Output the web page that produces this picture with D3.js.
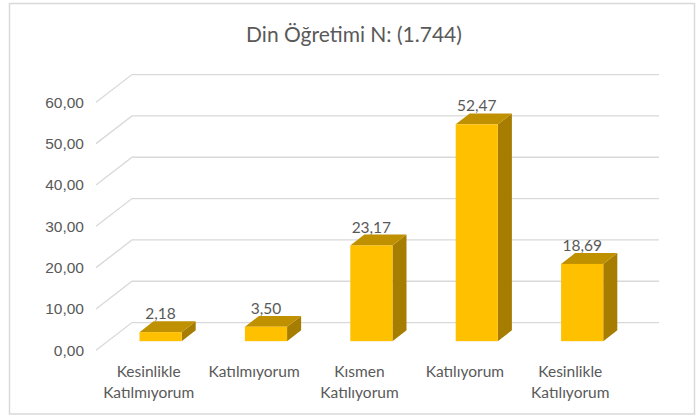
<!DOCTYPE html>
<html>
<head>
<meta charset="utf-8">
<script src="https://cdn.jsdelivr.net/npm/d3@7"></script>
<style>
  html, body { margin: 0; padding: 0; background: #fff; }
  svg { display: block; font-family: Lato, "Open Sans", sans-serif; }
  .tick text, .lbl, .cat { fill: #595959; font-size: 15.5px; }
  .title { fill: #595959; font-size: 21px; }
</style>
</head>
<body>
<svg id="chart" width="700" height="418"></svg>
<script>
/* ── data ─────────────────────────────────────────────────────────────── */
const TITLE = "Din Öğretimi N: (1.744)";
const CATEGORIES = [
  ["Kesinlikle", "Katılmıyorum"],
  ["Katılmıyorum"],
  ["Kısmen", "Katılıyorum"],
  ["Katılıyorum"],
  ["Kesinlikle", "Katılıyorum"],
];
const VALUES = [2.18, 3.5, 23.17, 52.47, 18.69];
const Y_TICKS = [0, 10, 20, 30, 40, 50, 60];

/* ── layout ───────────────────────────────────────────────────────────── */
const svg = d3.select("#chart");
const tr = d3.formatLocale({ decimal: ",", thousands: ".", grouping: [3], currency: ["", ""] });
const fmt = tr.format(".2f");

// front plane of the plot, and the depth vector back to the wall
const front = { left: 96, right: 623, bottom: 350.3, top: 102.3 };
const depth = { dx: 36, dy: -27.7 };
const barNear = 0.33, barFar = 0.72;   // bar slab position in depth

const keys = CATEGORIES.map((c) => c.join(" "));
const x = d3.scaleBand().domain(keys).range([front.left, front.right]);
const y = d3.scaleLinear().domain([0, 60]).range([front.bottom, front.top]);
const barW = x.bandwidth() * 0.4;

// chart border
svg.append("rect")
  .attr("x", 9.5).attr("y", 3.5).attr("width", 685).attr("height", 410.5)
  .attr("fill", "#fff").attr("stroke", "#d9d9d9").attr("stroke-width", 1.5);

svg.append("text")
  .attr("class", "title")
  .attr("x", 354).attr("y", 41.5)
  .attr("text-anchor", "middle")
  .text(TITLE);

// gridlines: diagonal side wall + horizontal back wall
svg.append("g").selectAll("path").data(Y_TICKS).join("path")
  .attr("d", (t) => {
    const p = d3.path();
    p.moveTo(front.left, y(t));
    p.lineTo(front.left + depth.dx, y(t) + depth.dy);
    p.lineTo(front.right + depth.dx, y(t) + depth.dy);
    return p.toString();
  })
  .attr("fill", "none")
  .attr("stroke", "#d9d9d9")
  .attr("stroke-width", 1.3);

// y axis labels
const yAxis = svg.append("g")
  .attr("transform", `translate(${front.left},0)`)
  .call(d3.axisLeft(y).tickValues(Y_TICKS).tickFormat(fmt).tickSize(0).tickPadding(12));
yAxis.select(".domain").remove();
yAxis.selectAll(".tick text").attr("font-family", null).attr("font-size", null).attr("fill", null);

// 3D bars
const bars = svg.append("g").selectAll("g").data(VALUES.map((v, i) => ({ k: keys[i], v }))).join("g");
const shift = (f) => [f * depth.dx, f * depth.dy];

bars.each(function (d) {
  const g = d3.select(this);
  const x0 = x(d.k) + (x.bandwidth() - barW) / 2;
  const x1 = x0 + barW;
  const [nx, ny] = shift(barNear);
  const [fx, fy] = shift(barFar);
  const yt = y(d.v), yb = y(0);

  g.append("path") // side
    .attr("d", `M${x1 + nx},${yt + ny}L${x1 + fx},${yt + fy}L${x1 + fx},${yb + fy}L${x1 + nx},${yb + ny}Z`)
    .attr("fill", "#a67d00");
  g.append("path") // top
    .attr("d", `M${x0 + nx},${yt + ny}L${x1 + nx},${yt + ny}L${x1 + fx},${yt + fy}L${x0 + fx},${yt + fy}Z`)
    .attr("fill", "#bf9000");
  g.append("rect") // front
    .attr("x", x0 + nx).attr("y", yt + ny)
    .attr("width", barW).attr("height", yb - yt)
    .attr("fill", "#ffc000");
  g.append("text")
    .attr("class", "lbl")
    .attr("x", (x0 + x1) / 2 + nx)
    .attr("y", yt + fy - 2)
    .attr("text-anchor", "middle")
    .text(fmt(d.v));
});

// category labels
svg.append("g").selectAll("text").data(CATEGORIES).join("text")
  .attr("class", "cat")
  .attr("text-anchor", "middle")
  .attr("x", (c, i) => x(keys[i]) + x.bandwidth() / 2)
  .attr("y", 376.5)
  .selectAll("tspan").data((c) => c).join("tspan")
  .attr("x", function () { return d3.select(this.parentNode).attr("x"); })
  .attr("dy", (s, j) => (j === 0 ? 0 : 21.5))
  .text((s) => s);
</script>
</body>
</html>
